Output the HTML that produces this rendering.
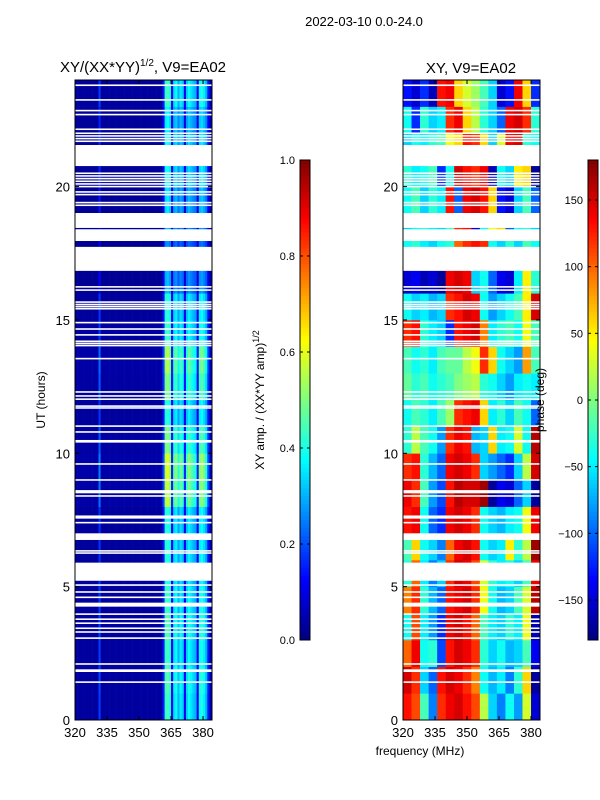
<!DOCTYPE html>
<html><head><meta charset="utf-8">
<style>
body{margin:0;background:#fff;}
svg{display:block;font-family:"Liberation Sans","DejaVu Sans",sans-serif;}
</style></head>
<body>
<svg id="chart" width="600" height="800" viewBox="0 0 600 800">
<rect width="600" height="800" fill="#fff"/>
<text x="364" y="26" font-size="13" text-anchor="middle">2022-03-10 0.0-24.0</text>
<text x="143" y="72" font-size="15" text-anchor="middle">XY/(XX*YY)<tspan font-size="10" dy="-6">1/2</tspan><tspan dy="6">, V9=EA02</tspan></text>
<text x="471" y="73" font-size="15" text-anchor="middle">XY, V9=EA02</text>
<g id="left"></g>
<g id="right"></g>
<g id="axes"></g>
<text x="420" y="755" font-size="12" text-anchor="middle">frequency (MHz)</text>
<text x="0" y="0" font-size="12" text-anchor="middle" transform="translate(45,400) rotate(-90)">UT (hours)</text>
<text x="0" y="0" font-size="12" text-anchor="middle" transform="translate(264,400) rotate(-90)">XY amp. / (XX*YY amp)<tspan font-size="9" dy="-5">1/2</tspan></text>
<text x="0" y="0" font-size="12" text-anchor="middle" transform="translate(544,400) rotate(-90)">phase (deg)</text>
</svg>
<script>
// ---- data ----
const freqStart = 320, freqEnd = 384.2;
const ampCols = [0.03,0.03,0.03,0.03,0.03,0.03,0.03,0.03,0.03,0.03,0.03,0.18,
0.03,0.03,0.03,0.03,0.03,0.03,0.03,0.03,0.03,0.03,0.03,0.03,0.03,0.03,0.03,0.03,0.03,0.03,0.03,0.03,0.03,0.03,0.03,0.03,0.03,0.03,0.03,0.03,0.03,
0.15,0.42,0.45,0.4,0.12,0.35,0.38,0.3,0.36,0.33,0.12,0.33,0.38,0.35,0.32,0.3,0.12,0.38,0.4,0.36,0.3,0.15,0.05];
const ampRowGain = [1.0,1.05,1.0,1.05,1.0,0.95,0.95,0.95,1.3,1.35,1.15,0.95,1.15,1.25,1.0,0.95,0.7,0.6,0.7,0.8,0.9,0.9,0.85,1.0];
const phaseGrid = [
[130,110,-20,-90,120,140,150,130,110,20,-60,-90,-40,-80,30,-150],
[150,120,-60,-100,130,150,140,120,90,-40,-70,-50,-90,-30,60,-170],
[100,140,-40,-30,-110,130,150,140,120,-30,-60,-40,-70,-60,-20,-140],
[-40,110,-50,-80,-120,140,150,130,100,-20,-50,-60,-30,-50,40,-160],
[90,120,-30,-70,-100,130,140,150,120,40,-40,-70,-60,-20,30,160],
[-30,100,-50,-90,-60,120,150,140,110,30,-30,-50,-40,-60,-20,140],
[-20,60,-40,-60,-90,100,140,150,130,-40,-60,-50,50,-30,20,170],
[130,140,-40,-100,-120,140,150,140,120,-40,-60,-70,-50,-40,40,140],
[140,120,-20,-80,-110,130,160,150,150,170,-170,-140,-150,-100,-60,-170],
[120,130,-30,-70,-100,140,150,140,120,-60,-80,-100,-120,-60,20,150],
[-30,20,-20,-40,-80,120,140,130,-70,-60,60,-50,-40,30,-40,160],
[-40,-20,-30,-50,-20,10,120,130,140,60,-50,-30,-60,-20,-40,-100],
[-10,-30,-20,-40,-30,-20,0,10,20,-30,-40,-60,-80,-50,-40,-50],
[-20,-40,-30,-50,-20,-10,-10,20,40,120,60,-40,-60,-80,80,-20],
[120,130,-30,-50,-60,-120,130,140,150,90,-50,-30,-20,-40,40,-20],
[-40,-60,-50,-70,-60,120,130,150,140,-40,-80,-60,-40,-20,50,150],
[-150,-140,-160,-150,-170,140,150,140,-60,-40,-100,-140,-150,-50,50,-30],
[-40,-30,-50,-60,-40,-30,100,120,130,120,-40,-60,-30,-60,-20,-40],
[-60,-40,-30,-50,-60,-20,120,130,-150,-40,40,60,-100,-40,-30,-60],
[-40,-20,-60,-30,-50,130,-100,140,150,130,60,-130,-150,-60,-20,-100],
[-30,-50,-40,-20,-120,-40,150,130,120,140,-160,-40,-60,50,60,-170],
[-60,-40,-50,-30,-20,40,60,130,120,60,-60,30,140,150,-30,-40],
[-40,-120,-30,-60,-50,120,140,60,20,-30,-60,-100,140,150,120,-30],
[-130,-150,-120,-160,130,140,60,30,10,-20,-60,-150,-130,140,60,-120]];
const bigGaps = [[20.77,21.56],[18.45,19.01],[17.96,18.4],[16.84,17.74],[6.75,7.0],[5.22,5.9],[10.4,10.5],[8.5,8.62],[7.55,7.67],[4.25,4.4],[1.8,1.9]];
const thinGaps = [23.8,23.25,22.85,22.7,22.15,22.0,21.9,21.8,21.7,20.5,20.4,20.3,20.2,20.1,20.0,19.8,19.7,19.4,19.3,16.24,16.12,15.67,15.58,15.5,15.42,14.9,14.66,14.44,14.2,14.12,14.04,13.55,12.3,12.15,12.03,11.77,11.7,11.02,10.8,9.6,9.0,8.4,7.4,6.34,6.26,5.06,4.8,4.6,3.97,3.78,3.63,3.44,3.3,3.07,2.1,1.42];
const hourTicks = [0,5,10,15,20];
const freqTicks = [320,335,350,365,380];
const ampTicks = [0.0,0.2,0.4,0.6,0.8,1.0];
const phaseTicks = [-150,-100,-50,0,50,100,150];

// ---- helpers ----
const NS="http://www.w3.org/2000/svg";
function yHour(h){return 720-h*26.67;}
function xL(f){return 75+(f-freqStart)*(137/(freqEnd-freqStart));}
function xR(f){return 403+(f-freqStart)*(137/(freqEnd-freqStart));}
function jet(v){v=Math.max(0,Math.min(1,v));
 const r=Math.max(0,Math.min(1,1.5-Math.abs(4*v-3)));
 const g=Math.max(0,Math.min(1,1.5-Math.abs(4*v-2)));
 const b=Math.max(0,Math.min(1,1.5-Math.abs(4*v-1)));
 return `rgb(${Math.round(r*255)},${Math.round(g*255)},${Math.round(b*255)})`;}
function mk(tag,attrs,parent){const e=document.createElementNS(NS,tag);for(const k in attrs)e.setAttribute(k,attrs[k]);parent.appendChild(e);return e;}

const L=document.getElementById('left'),R=document.getElementById('right'),A=document.getElementById('axes');
for(let r=0;r<ampRowGain.length;r++){
 for(let c=0;c<ampCols.length;c++){
  const f=freqStart+c, x0=xL(f), x1=xL(f+1);
  const el=mk('rect',{x:x0,y:yHour(r+1),width:x1-x0+0.3,height:26.97,fill:jet(ampCols[c]*ampRowGain[r])},L);
  
  
 }
}
for(let r=0;r<phaseGrid.length;r++){
 for(let c=0;c<phaseGrid[r].length;c++){
  const f=freqStart+c*4, x0=xR(f), x1=xR(Math.min(f+4,freqEnd));
  const el=mk('rect',{x:x0,y:yHour(r+1),width:x1-x0+0.3,height:26.97,fill:jet((phaseGrid[r][c]+180)/360)},R);
  
  
 }
}
for(const [px,g] of [[75,L],[403,R]]){
 for(const [a,b] of bigGaps){
  const el=mk('rect',{x:px,y:yHour(b),width:137,height:yHour(a)-yHour(b),fill:'#fff'},g);
  
  
 }
 for(const t of thinGaps){
  const el=mk('rect',{x:px,y:yHour(t)-0.8,width:137,height:1.6,fill:'#fff'},g);
  
  
 }
}
for(const [px,xf] of [[75,xL],[403,xR]]){
 const fr=mk('rect',{x:px,y:80,width:137,height:640,fill:'none',stroke:'#000','stroke-width':1},A);
 
 
 for(const h of hourTicks){
  const y=yHour(h);
  mk('line',{x1:px,x2:px+4,y1:y,y2:y,stroke:'#000'},A);
  mk('line',{x1:px+137,x2:px+133,y1:y,y2:y,stroke:'#000'},A);
  const t=mk('text',{x:px-5,y:y+5,'font-size':13,'text-anchor':'end'},A);t.textContent=h;
  
  
 }
 for(const f of freqTicks){
  const x=xf(f);
  mk('line',{x1:x,x2:x,y1:720,y2:716,stroke:'#000'},A);
  mk('line',{x1:x,x2:x,y1:80,y2:84,stroke:'#000'},A);
  const t=mk('text',{x:x,y:737,'font-size':13,'text-anchor':'middle'},A);t.textContent=f;
  
  
 }
}
function colorbar(x,ticks,lo,hi,fmt,name){
 const n=120;
 for(let i=0;i<n;i++){
  const el=mk('rect',{x:x,y:640-(i+1)*4,width:10,height:4.3,fill:jet((i+0.5)/n)},A);
  
  
 }
 const fr=mk('rect',{x:x,y:160,width:10,height:480,fill:'none',stroke:'#000'},A);
 
 
 for(const v of ticks){
  const y=640-(v-lo)/(hi-lo)*480;
  mk('line',{x1:x,x2:x+3,y1:y,y2:y,stroke:'#000'},A);
  mk('line',{x1:x+10,x2:x+7,y1:y,y2:y,stroke:'#000'},A);
  const t=mk('text',{x:x-5,y:y+4,'font-size':11,'text-anchor':'end'},A);t.textContent=fmt(v);
  
  
 }
}
colorbar(300,ampTicks,0,1,v=>v.toFixed(1),'amp-colorbar');
colorbar(588,phaseTicks,-180,180,v=>v<0?'\u2212'+(-v):String(v),'phase-colorbar');
</script>
</body></html>
